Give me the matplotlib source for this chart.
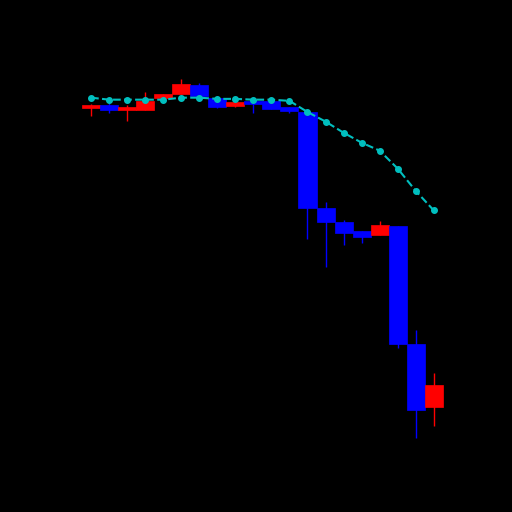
import numpy as np
import matplotlib
matplotlib.use("Agg")
import matplotlib.pyplot as plt

# OHLC values
opens = [87.1, 87.8, 86.6, 86.6, 89.6, 90.6, 93.0, 89.7, 87.6, 88.8,
         88.8, 87.3, 86.2, 62.1, 58.5, 56.1, 55.1, 57.5, 27.8, 12.1]
highs = [88.2, 88.3, 87.8, 91.2, 90.5, 94.3, 93.5, 89.7, 88.5, 88.8,
         88.8, 87.3, 86.2, 63.4, 58.9, 56.1, 58.8, 57.5, 31.3, 20.6]
lows = [85.1, 85.8, 83.8, 86.6, 89.6, 90.6, 90.1, 87.1, 87.3, 85.8,
        86.8, 85.8, 54.3, 47.1, 52.6, 53.3, 55.1, 26.8, 4.3, 7.3]
closes = [87.8, 86.6, 87.3, 88.9, 90.5, 93.2, 90.1, 87.3, 88.5, 88.2,
          86.8, 86.3, 62.1, 58.6, 55.6, 54.8, 57.8, 27.8, 11.3, 17.5]
# dashed cyan line
line_vals = [89.7, 89.2, 89.2, 89.2, 89.2, 89.7, 89.7, 89.4, 89.4, 89.2,
             89.2, 88.9, 86.1, 83.7, 80.9, 78.4, 76.4, 71.9, 66.3, 61.4]

x = np.arange(len(opens))
o = np.array(opens)
c = np.array(closes)
colors = ['red' if cc >= oo else 'blue' for oo, cc in zip(o, c)]

fig, ax = plt.subplots(figsize=(5.12, 5.12), dpi=100)
fig.patch.set_facecolor('black')
ax.set_facecolor('black')

# wicks behind bodies
ax.vlines(x, lows, highs, colors=colors, linewidth=1, zorder=1)
ax.bar(x, c - o, bottom=o, width=1.0, color=colors, edgecolor=colors,
       linewidth=0.5, zorder=2)
ax.plot(x, line_vals, 'c--', marker='o', markersize=4, linewidth=1.5, zorder=3)

ax.set_xlim(-1.5, 20.5)
ax.set_ylim(-0.2, 98.8)
for s in ax.spines.values():
    s.set_color('black')
ax.tick_params(colors='black')

plt.savefig("out.png", facecolor='black')
